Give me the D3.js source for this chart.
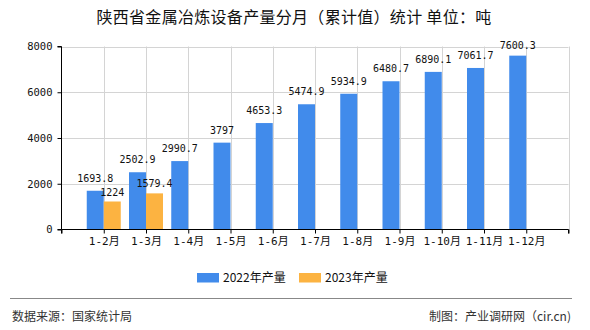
<!DOCTYPE html>
<html><head><meta charset="utf-8">
<script src="https://cdn.jsdelivr.net/npm/d3@7"></script>
<style>body{margin:0;background:#fff}svg{display:block}</style>
</head><body><svg id="c" width="590" height="330"></svg>
<script>
const title = "陕西省金属冶炼设备产量分月（累计值）统计 单位：吨";
const categories = ["1-2月","1-3月","1-4月","1-5月","1-6月","1-7月","1-8月","1-9月","1-10月","1-11月","1-12月"];
const values2022 = [1693.8,2502.9,2990.7,3797,4653.3,5474.9,5934.9,6480.7,6890.1,7061.7,7600.3];
const values2023 = [1224,1579.4];
const seriesNames = ["2022年产量","2023年产量"];
const colors = ["#418BEB","#FCB341"];
const yTicks = [0,2000,4000,6000,8000];
const source = "数据来源：国家统计局";
const credit = "制图：产业调研网（cir.cn)";

const svg = d3.select("#c");
const mono = "'DejaVu Sans Mono','Liberation Mono','Noto Sans CJK SC',monospace";
const cjk = "'Noto Sans CJK SC','DejaVu Sans',sans-serif";
const L=61.5, R=568.5, T=46.5, B=229.5;
const x = d3.scalePoint().domain(["__s", ...categories, "__e"]).range([L,R]);
const y = d3.scaleLinear().domain([0,8000]).range([B,T]);
const bw = 17;

svg.append("text").attr("x",294).attr("y",23).attr("text-anchor","middle")
  .attr("font-family",cjk).attr("font-size",16).attr("letter-spacing",0.3).attr("fill","#111").text(title);

// grid
const g = svg.append("g");
g.selectAll("line.h").data(yTicks.filter(d=>d>0)).join("line")
  .attr("x1",L).attr("x2",R).attr("y1",d=>Math.round(y(d))+0.5).attr("y2",d=>Math.round(y(d))+0.5)
  .attr("stroke","#d4d4d4");
g.selectAll("line.v").data(x.domain().slice(1)).join("line")
  .attr("x1",d=>Math.round(x(d))+0.5).attr("x2",d=>Math.round(x(d))+0.5).attr("y1",T).attr("y2",B)
  .attr("stroke","#d4d4d4");

// bars
const bars = svg.append("g");
bars.selectAll("rect.a").data(values2022).join("rect")
  .attr("x",(d,i)=>x(categories[i])-bw).attr("width",bw)
  .attr("y",d=>y(d)).attr("height",d=>B-y(d)).attr("fill",colors[0]);
bars.selectAll("rect.b").data(values2023).join("rect")
  .attr("x",(d,i)=>x(categories[i])).attr("width",bw)
  .attr("y",d=>y(d)).attr("height",d=>B-y(d)).attr("fill",colors[1]);

// labels
const lab = svg.append("g").attr("font-family",mono).attr("font-size",10).attr("fill","#111").attr("text-anchor","middle");
lab.selectAll("text.a").data(values2022).join("text")
  .attr("x",(d,i)=>x(categories[i])-bw/2).attr("y",d=>Math.max(y(d)-9,49)).text(d=>d);
lab.selectAll("text.b").data(values2023).join("text")
  .attr("x",(d,i)=>x(categories[i])+bw/2).attr("y",d=>y(d)-6).text(d=>d);

// axes
const ya = svg.append("g").attr("transform",`translate(${L},0)`)
  .call(d3.axisLeft(y).tickValues(yTicks).tickSize(4).tickPadding(5).tickFormat(d3.format("d")));
ya.select(".domain").attr("stroke","#000").attr("d",`M-4,${T}H0V${B}H-4`);
ya.selectAll("line").attr("stroke","#000");
ya.selectAll("text").attr("font-family",mono).attr("font-size",10.5).attr("fill","#111");

const xa = svg.append("g").attr("transform",`translate(0,${B})`)
  .call(d3.axisBottom(x).tickSize(4).tickPadding(4).tickFormat(d=>d.startsWith("__")?"":d));
xa.select(".domain").attr("stroke","#000").attr("d",`M${L},4V0H${R}V4`);
xa.selectAll("line").attr("stroke","#000");
xa.selectAll("text").attr("font-family",mono).attr("font-size",11).attr("fill","#111");

// legend
const leg = svg.append("g");
const lx = [197,299];
seriesNames.forEach((n,i)=>{
  leg.append("rect").attr("x",lx[i]).attr("y",273).attr("width",22).attr("height",9.5).attr("fill",colors[i]);
  leg.append("text").attr("x",lx[i]+26).attr("y",282).attr("font-family",cjk).attr("font-size",12).attr("fill","#111").text(n);
});

// footer
svg.append("line").attr("x1",10).attr("x2",572).attr("y1",298.5).attr("y2",298.5).attr("stroke","#888");
svg.append("text").attr("x",12).attr("y",321).attr("font-family",cjk).attr("font-size",12).attr("fill","#333").text(source);
svg.append("text").attr("x",571).attr("y",321).attr("text-anchor","end").attr("font-family",cjk).attr("font-size",12).attr("fill","#333").text(credit);
</script></body></html>
